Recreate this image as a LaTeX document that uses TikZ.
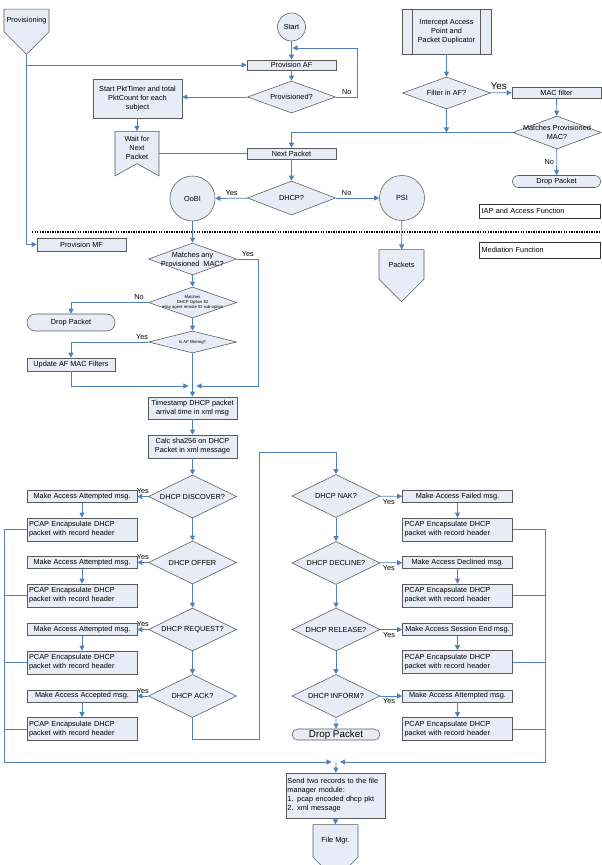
\documentclass[tikz,border=0pt]{standalone}
\usepackage{fontspec}
\setmainfont{Liberation Sans}
\usetikzlibrary{shapes.geometric,shapes.misc,shapes.symbols,arrows.meta}
\definecolor{flowblue}{RGB}{79,129,189}
\definecolor{boxfill}{RGB}{232,236,246}
\definecolor{boxline}{RGB}{90,90,90}
\newcommand\flowtiny{\fontsize{3}{3.5}\selectfont}
\newcommand\flowbig{\fontsize{7}{8}\selectfont}

\begin{document}
\fontsize{5.2}{6.4}\selectfont
\begin{tikzpicture}[x=0.025cm, y=-0.025cm,
        box/.style={rectangle, draw=boxline, fill=boxfill, inner xsep=1.5pt, inner ysep=0.5pt, align=center},
        msg/.style={box, minimum width=2.75cm, minimum height=0.29cm},
        pcap/.style={box, align=left, text width=2.644cm, minimum height=0.575cm},
        dec/.style={diamond, draw=boxline, fill=boxfill, inner sep=0pt, minimum width=2.2cm},
        conn/.style={circle, draw=boxline, fill=boxfill, inner sep=0pt},
        term/.style={rounded rectangle, draw=boxline, fill=boxfill, inner sep=0pt, minimum width=2.2cm},
        offpage/.style={signal, signal to=south, signal pointer angle=90, draw=boxline, fill=boxfill, inner sep=1pt, minimum width=1.125cm},
        note/.style={rectangle, draw=black!80, fill=white, align=left, text width=2.92cm, inner xsep=1.5pt},
        line/.style={draw=flowblue, line width=0.6pt},
        arr/.style={line, -{Triangle[length=3.6pt,width=3.6pt]}},
        every label/.style={align=center, inner sep=0pt}]

    \useasboundingbox (0,0) rectangle (601,865);

    % Provisioning side
    \node[offpage, minimum height=1.1cm] (prov) at (26.5,20.5) {Provisioning};
    \node[conn, minimum size=0.7cm] (start) at (291.5,27) {Start};
    \node[box, minimum width=2.225cm, minimum height=0.25cm] (paf) at (291.5,65) {Provision AF};
    \node[dec, minimum height=0.8cm, label=center:Provisioned?] (provd) at (291.5,97) {};
    \node[box, minimum width=2.225cm, minimum height=0.975cm] (ptimer) at (137.5,98.5) {Start PktTimer and total\\PktCount for each\\subject};
    \node[signal, signal from=south, signal to=nowhere, signal pointer angle=122, draw=boxline, fill=boxfill, align=center, inner sep=1pt, minimum width=1.1cm, minimum height=1.0cm] (wait) at (137,147.5) {Wait for\\Next\\Packet};
    \node[box, minimum width=2.225cm, minimum height=0.275cm] (npkt) at (291.5,153.5) {Next Packet};
    \node[dec, minimum height=0.85cm, label=center:DHCP?] (dhcp) at (291.5,198) {};
    \node[conn, minimum size=1.125cm] (oobi) at (192.5,198.5) {OoBI};
    \node[conn, minimum size=1.125cm] (psi) at (402,198) {PSI};
    \node[offpage, minimum height=1.1cm] (packets) at (401.5,264.5) {Packets};

    % IAP side
    \node[box, minimum width=2.225cm, minimum height=1.125cm] (iap) at (446.5,31.5) {Intercept Access\\Point and\\Packet Duplicator};
    \draw[boxline] ([xshift=0.275cm]iap.north west) -- ([xshift=0.275cm]iap.south west);
    \draw[boxline] ([xshift=-0.275cm]iap.north east) -- ([xshift=-0.275cm]iap.south east);
    \node[dec, minimum height=0.8cm, label=center:Filter in AF?] (filt) at (446.5,93) {};
    \node[box, minimum width=2.225cm, minimum height=0.275cm] (macf) at (556.5,92.5) {MAC filter};
    \node[dec, minimum height=0.825cm, label={center:Matches Provisioned\\MAC?}] (mpm) at (557,132.5) {};
    \node[term, minimum height=0.3cm] (drop1) at (556.5,181.5) {Drop Packet};
    \node[note, minimum height=0.35cm] (iaf) at (540,211) {IAP and Access Function};
    \node[note, minimum height=0.4cm] (medf) at (540,250) {Mediation Function};

    \draw[line width=0.9pt, dash pattern=on 1pt off 0.8pt] (32,232) -- (601,232);

    % Mediation function
    \node[box, minimum width=2.225cm, minimum height=0.325cm] (provmf) at (81.5,244.5) {Provision MF};
    \node[dec, minimum height=0.8cm, label={center:Matches any\\Provisioned\ \ MAC?}] (mapm) at (192.5,259) {};
    \node[dec, minimum height=0.775cm, label={[font=\flowtiny]center:Matches\\DHCP Option 82\\relay agent remote ID sub-option}] (mdo) at (192.5,302.5) {};
    \node[term, minimum height=0.425cm] (drop2) at (71,322.5) {Drop Packet};
    \node[dec, minimum height=0.55cm, label={[font=\flowtiny]center:Is AF filtering?}] (isaf) at (192.5,342) {};
    \node[box, minimum width=2.2cm, minimum height=0.325cm] (upd) at (71,364.5) {Update AF MAC Filters};
    \coordinate (joinL) at (188.5,386);
    \coordinate (joinR) at (196.5,386);
    \node[box, minimum width=2.225cm, minimum height=0.55cm] (ts) at (192.5,408) {Timestamp DHCP packet\\arrival time in xml msg};
    \node[box, minimum width=2.225cm, minimum height=0.575cm] (calc) at (192.5,446.5) {Calc sha256 on DHCP\\Packet in xml message};

    % Left column
    \node[dec, minimum height=1.075cm, label=center:DHCP DISCOVER?] (disc) at (192.5,496.5) {};
    \node[msg] (mk1) at (82,496.5) {Make Access Attempted msg.};
    \node[pcap] (pc1) at (82,529.5) {PCAP Encapsulate DHCP\\packet with record header};
    \node[dec, minimum height=1.075cm, label=center:DHCP OFFER] (offer) at (192.5,562.5) {};
    \node[msg] (mk2) at (82,562.5) {Make Access Attempted msg.};
    \node[pcap] (pc2) at (82,595.5) {PCAP Encapsulate DHCP\\packet with record header};
    \node[dec, minimum height=1.075cm, label=center:DHCP REQUEST?] (req) at (192.5,629.5) {};
    \node[msg] (mk3) at (82,629.5) {Make Access Attempted msg.};
    \node[pcap] (pc3) at (82,662.5) {PCAP Encapsulate DHCP\\packet with record header};
    \node[dec, minimum height=1.075cm, label=center:DHCP ACK?] (ack) at (192.5,696) {};
    \node[msg] (mk4) at (82,696) {Make Access Accepted msg.};
    \node[pcap] (pc4) at (82,729) {PCAP Encapsulate DHCP\\packet with record header};

    % Right column
    \node[dec, minimum height=1.075cm, label=center:DHCP NAK?] (nak) at (336,496) {};
    \node[msg] (mkf) at (457.5,496.5) {Make Access Failed msg.};
    \node[pcap] (pcf) at (457.5,529.5) {PCAP Encapsulate DHCP\\packet with record header};
    \node[dec, minimum height=1.075cm, label=center:DHCP DECLINE?] (decl) at (336,563) {};
    \node[msg] (mkd) at (457.5,562.5) {Make Access Declined msg.};
    \node[pcap] (pcd) at (457.5,595.5) {PCAP Encapsulate DHCP\\packet with record header};
    \node[dec, minimum height=1.075cm, label=center:DHCP RELEASE?] (rel) at (336,629.5) {};
    \node[msg] (mks) at (457.5,629.5) {Make Access Session End msg.};
    \node[pcap] (pcs) at (457.5,662) {PCAP Encapsulate DHCP\\packet with record header};
    \node[dec, minimum height=1.075cm, label=center:DHCP INFORM?] (inf) at (336,696) {};
    \node[msg] (mka) at (457.5,696) {Make Access Attempted msg.};
    \node[pcap] (pca) at (457.5,729) {PCAP Encapsulate DHCP\\packet with record header};
    \node[term, minimum height=0.275cm, font=\flowbig] (drop3) at (336,734.5) {Drop Packet};

    % Output
    \coordinate (busL) at (4.5,762);
    \coordinate (busR) at (545.5,762);
    \coordinate (botL) at (331.5,762);
    \coordinate (botR) at (340,762);
    \coordinate (botM) at (336,762);
    \node[box, align=left, text width=2.4cm, inner xsep=1pt, minimum height=1.125cm] (send) at (335.5,795.5) {Send two records to the file\\manager module:\\1. pcap encoded dhcp pkt\\2. xml message};
    \node[offpage, minimum height=1.2cm] (fmgr) at (335.5,841) {File Mgr.};

    % Connectors upper part
    \draw[arr] (prov.south) |- (provmf.west);
    \draw[arr] (prov.south |- paf.west) -- (paf.west);
    \coordinate (ret) at (292.5,48);
    \draw[arr] (start) -- (paf);
    \draw[arr] (paf) -- (provd);
    \draw[arr] (provd.east) -- ++(22,0) node[midway, above] {No} |- (ret);
    \draw[arr] (provd.west) -- (provd.west -| ptimer.east);
    \draw[arr] (ptimer.south -| wait.north) -- (wait.north);
    \draw[line] (wait.east |- npkt.west) -- (npkt.west);
    \draw[arr] (npkt) -- (dhcp);
    \draw[arr] (dhcp) -- (oobi) node[midway, above] {Yes};
    \draw[arr] (dhcp) -- (psi) node[pos=0.25, above] {No};
    \draw[arr] (psi) -- (packets);
    \draw[arr] (iap) -- (filt);
    \draw[arr] (filt) -- (macf) node[pos=0.4, above, font=\flowbig] {Yes};
    \draw[arr] (macf) -- (mpm);
    \draw[arr] (mpm) -- (drop1) node[midway, left] {No};
    \draw[arr] (mpm.west) -| (npkt.north);
    \draw[arr] (filt.south) -- (filt.south |- mpm.west);

    % Connectors mediation
    \draw[arr] (oobi) -- (mapm);
    \draw[arr] (mapm) -- (mdo);
    \draw[arr] (mapm.east) -- ++(22,0) node[midway, above] {Yes} |- (joinR);
    \draw[arr] (mdo.west) -| (drop2.north) node[pos=0.06, above] {No};
    \draw[arr] (mdo) -- (isaf);
    \draw[arr] (isaf.west) -| (upd.north) node[pos=0.04, above] {Yes};
    \draw[arr] (upd.south) |- (joinL);
    \draw[arr] (isaf) -- (ts);
    \draw[arr] (ts) -- (calc);
    \draw[arr] (calc) -- (disc);

    % Connectors left column
    \draw[arr] (disc) -- (mk1) node[midway, above] {Yes};
    \draw[arr] (offer) -- (mk2) node[midway, above] {Yes};
    \draw[arr] (req) -- (mk3) node[midway, above] {Yes};
    \draw[arr] (ack) -- (mk4) node[midway, above] {Yes};
    \draw[arr] (mk1) -- (pc1);
    \draw[arr] (mk2) -- (pc2);
    \draw[arr] (mk3) -- (pc3);
    \draw[arr] (mk4) -- (pc4);
    \draw[arr] (disc) -- (offer);
    \draw[arr] (offer) -- (req);
    \draw[arr] (req) -- (ack);
    \draw[arr] (pc1.west) -| (busL) -- (botL);
    \draw[line] (pc2.west) -- (pc2.west -| busL);
    \draw[line] (pc3.west) -- (pc3.west -| busL);
    \draw[line] (pc4.west) -- (pc4.west -| busL);
    \draw[arr] (ack.south) -- ++(0,22) -| (259,452) -| (nak.north);

    % Connectors right column
    \draw[arr] (nak) -- (mkf) node[pos=0.4, below] {Yes};
    \draw[arr] (decl) -- (mkd) node[pos=0.4, below] {Yes};
    \draw[arr] (rel) -- (mks) node[pos=0.4, below] {Yes};
    \draw[arr] (inf) -- (mka) node[pos=0.4, below] {Yes};
    \draw[arr] (mkf) -- (pcf);
    \draw[arr] (mkd) -- (pcd);
    \draw[arr] (mks) -- (pcs);
    \draw[arr] (mka) -- (pca);
    \draw[arr] (nak) -- (decl);
    \draw[arr] (decl) -- (rel);
    \draw[arr] (rel) -- (inf);
    \draw[arr] (inf) -- (drop3);
    \draw[arr] (pcf.east) -| (busR) -- (botR);
    \draw[line] (pcd.east) -- (pcd.east -| busR);
    \draw[line] (pcs.east) -- (pcs.east -| busR);
    \draw[line] (pca.east) -- (pca.east -| busR);

    % Output
    \draw[arr] (botM) -- (send);
    \draw[arr] (send) -- (fmgr);
\end{tikzpicture}
\end{document}
